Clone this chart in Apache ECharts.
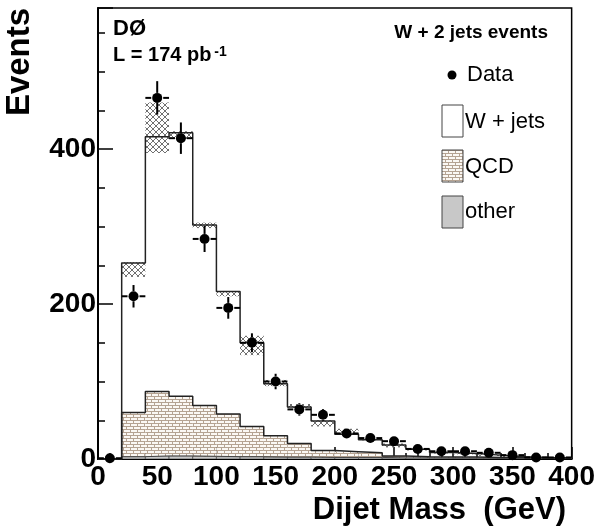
<!DOCTYPE html>
<html><head><meta charset="utf-8">
<script src="https://cdn.jsdelivr.net/npm/echarts@6/dist/echarts.min.js"></script>
<style>html,body{margin:0;padding:0;background:#fff}#c{width:598px;height:531px}</style>
</head><body><div id="c"></div>
<script>
// ---- data ----
const binEdges = [0,20,40,60,80,100,120,140,160,180,200,220,240,260,280,300,320,340,360,380,400];
const wjets = [0,193,329,340,233,158,108,67,47,38,22.5,17,14,9.5,6,4.5,3,1.2,0.5,0.3];
const qcd   = [0,57,83,77,65.5,55,39,27.5,17.5,9,7.5,6,2.5,1.5,1.3,1.3,1,0.8,0.7,0.4];
const other = [0,3,4,4,3.5,3,3,2.5,2.5,2,2,2,1.5,1.5,1.2,1.2,1,1,0.8,0.8];
const bandLow  = [0,235,395,413,298,210,134,94,66,42,32,24,15,11,7,6,4,2,1,0.5];
const bandHigh = [0,254,460,423,305,216,159,102,71,50,39,27,20,14,9.5,8,6,4,3,2.5];
const dataX   = [10,30,50,70,90,110,130,150,170,190,210,230,250,270,290,310,330,350,370,390];
const dataY   = [1,210,466,414,284,195,150,100,64,57,33,27,23,13,10,10,8,5,2,2];
const dataErr = [1,14.5,21.6,20.3,16.9,14,12.2,10,8,7.5,5.7,5.2,4.8,3.6,3.2,3.2,2.8,2.2,1.4,1.4];
const xTicks = [0,50,100,150,200,250,300,350,400];
const yTicks = [0,200,400];
const legendLabels = ['Data','W + jets','QCD','other'];

// ---- patterns ----
function brickPattern(){
  const c=document.createElement('canvas'); c.width=7; c.height=6;
  const g=c.getContext('2d'); g.fillStyle='#fbf8f4'; g.fillRect(0,0,7,6);
  g.strokeStyle='#b5a392'; g.lineWidth=1; g.beginPath();
  g.moveTo(0,0.5); g.lineTo(7,0.5); g.moveTo(0,3.5); g.lineTo(7,3.5);
  g.moveTo(0.5,0); g.lineTo(0.5,3); g.moveTo(4.5,3); g.lineTo(4.5,6);
  g.stroke(); return c;
}
function hatchPattern(){
  const c=document.createElement('canvas'); c.width=6; c.height=6;
  const g=c.getContext('2d');
  g.strokeStyle='#707070'; g.lineWidth=1; g.beginPath();
  g.moveTo(0,0); g.lineTo(6,6); g.moveTo(0,6); g.lineTo(6,0);
  g.stroke(); return c;
}
const brick = {image: brickPattern(), repeat:'repeat'};
const hatch = {image: hatchPattern(), repeat:'repeat'};

const FONT = '"Liberation Sans", Arial, Helvetica, sans-serif';

// stacked layers
const nb = wjets.length;
const otherItems=[], qcdItems=[], bandItems=[];
const otherTop=[], qcdTop=[], totTop=[];
for(let i=0;i<nb;i++){
  const o=other[i], q=o+qcd[i], t=q+wjets[i];
  otherTop.push(o); qcdTop.push(q); totTop.push(t);
  otherItems.push([binEdges[i],binEdges[i+1],0,o]);
  qcdItems.push([binEdges[i],binEdges[i+1],o,q]);
  if(bandHigh[i]>0) bandItems.push([binEdges[i],binEdges[i+1],bandLow[i],bandHigh[i]]);
}
function stepData(tops){
  const d=[]; for(let i=0;i<nb;i++) d.push([binEdges[i],tops[i]]);
  d.push([binEdges[nb],tops[nb-1]]); return d;
}
function rectSeries(items, style, z){
  return {type:'custom', z, clip:true, data:items, encode:{x:[0,1],y:[2,3]},
    renderItem(p, api){
      const a=api.coord([api.value(0),api.value(3)]);
      const b=api.coord([api.value(1),api.value(2)]);
      return {type:'rect', shape:{x:a[0],y:a[1],width:b[0]-a[0],height:b[1]-a[1]}, style:Object.assign({},style)};
    }};
}
function lineStep(tops,color,w,z){
  return {type:'line', step:'end', z, data:stepData(tops), symbol:'none',
    lineStyle:{color, width:w}, silent:true, animation:false};
}
const pts = dataX.map((x,i)=>[x,dataY[i],dataErr[i]]);

const chart = echarts.init(document.getElementById('c'));
chart.setOption({
  animation:false,
  backgroundColor:'#fff',
  grid:{left:98, top:8, right:24, bottom:72, show:true, borderColor:'#000', borderWidth:1.5, backgroundColor:'transparent'},
  xAxis:{type:'value', min:0, max:400, interval:50,
    axisLine:{lineStyle:{color:'#000', width:2}},
    axisTick:{inside:true, length:12, lineStyle:{color:'#000', width:1.5}},
    minorTick:{show:true, splitNumber:5, length:6, lineStyle:{color:'#000', width:1.5}},
    splitLine:{show:false},
    axisLabel:{color:'#000', fontFamily:FONT, fontWeight:'bold', fontSize:28, margin:4,
      formatter:v=> xTicks.includes(v)? String(v):''}
  },
  yAxis:[
    {type:'value', min:0, max:582, interval:50, position:'left',
      axisLine:{show:true, lineStyle:{color:'#000', width:2}},
      axisTick:{inside:true, length:7, lineStyle:{color:'#000', width:1.5}},
      splitLine:{show:false},
      axisLabel:{color:'#000', fontFamily:FONT, fontWeight:'bold', fontSize:28, margin:2,
        formatter:v=> yTicks.includes(v)? String(v):''}
    },
    {type:'value', min:0, max:582, interval:200, position:'left', offset:0,
      axisLine:{show:false},
      axisTick:{inside:true, length:15, lineStyle:{color:'#000', width:1.5}},
      splitLine:{show:false}, axisLabel:{show:false}
    }
  ],
  series:[
    rectSeries(otherItems,{fill:'#c8c8c8', stroke:'#555', lineWidth:0.8},1),
    rectSeries(qcdItems,{fill:brick},2),
    rectSeries(bandItems,{fill:hatch},3),
    lineStep(otherTop,'#444',1,4),
    lineStep(qcdTop,'#222',1.5,4),
    lineStep(totTop,'#222',1.5,5),
    {type:'custom', z:10, data:pts, encode:{x:0,y:1},
      renderItem(p, api){
        const x=api.value(0), y=api.value(1), e=api.value(2);
        const c=api.coord([x,y]);
        const t=api.coord([x,y+e]), b=api.coord([x,Math.max(0,y-e)]);
        const l=api.coord([x-10,y]), r=api.coord([x+10,y]);
        const R=5, ls={stroke:'#000', lineWidth:2};
        const ch=[{type:'circle', shape:{cx:c[0],cy:c[1],r:R}, style:{fill:'#000'}}];
        if(c[1]-t[1]>R) ch.push({type:'line', shape:{x1:c[0],y1:t[1],x2:c[0],y2:c[1]-R}, style:ls});
        if(b[1]-c[1]>R) ch.push({type:'line', shape:{x1:c[0],y1:c[1]+R,x2:c[0],y2:b[1]}, style:ls});
        ch.push({type:'line', shape:{x1:l[0],y1:c[1],x2:c[0]-R-1,y2:c[1]}, style:ls});
        ch.push({type:'line', shape:{x1:c[0]+R+1,y1:c[1],x2:r[0],y2:c[1]}, style:ls});
        return {type:'group', children:ch};
      }}
  ],
  graphic:[
    {type:'text', x:20, y:62, rotation:Math.PI/2, style:{text:'Events', font:'bold 33px '+FONT, fill:'#000', textAlign:'center', textVerticalAlign:'middle'}},
    {type:'text', x:566, y:510, style:{text:'Dijet Mass  (GeV)', font:'bold 31px '+FONT, fill:'#000', textAlign:'right', textVerticalAlign:'middle'}},
    {type:'text', x:113, y:29, style:{text:'DØ', font:'bold 22px '+FONT, fill:'#000', textVerticalAlign:'middle'}},
    {type:'text', x:113, y:55, style:{text:'{a|L = 174 pb}{s|-1}', fill:'#000', textVerticalAlign:'middle',
      rich:{a:{font:'bold 20px '+FONT, fill:'#000'}, s:{font:'bold 14px '+FONT, fill:'#000', verticalAlign:'top', padding:[0,0,0,3]}}}},
    {type:'text', x:548, y:33, style:{text:'W + 2 jets events', font:'bold 19px '+FONT, fill:'#000', textAlign:'right', textVerticalAlign:'middle'}},
    {type:'circle', shape:{cx:452, cy:75, r:4.5}, style:{fill:'#000'}},
    {type:'text', x:467, y:75, style:{text:legendLabels[0], font:'22px '+FONT, fill:'#000', textVerticalAlign:'middle'}},
    {type:'rect', shape:{x:442, y:105, width:21, height:32}, style:{fill:'#fff', stroke:'#444', lineWidth:1}},
    {type:'text', x:465, y:122, style:{text:legendLabels[1], font:'22px '+FONT, fill:'#000', textVerticalAlign:'middle'}},
    {type:'rect', shape:{x:442, y:150, width:21, height:32}, style:{fill:brick, stroke:'#444', lineWidth:1}},
    {type:'text', x:465, y:167, style:{text:legendLabels[2], font:'22px '+FONT, fill:'#000', textVerticalAlign:'middle'}},
    {type:'rect', shape:{x:442, y:196, width:21, height:32}, style:{fill:'#c8c8c8', stroke:'#444', lineWidth:1}},
    {type:'text', x:465, y:212, style:{text:legendLabels[3], font:'22px '+FONT, fill:'#000', textVerticalAlign:'middle'}}
  ]
});
</script></body></html>
